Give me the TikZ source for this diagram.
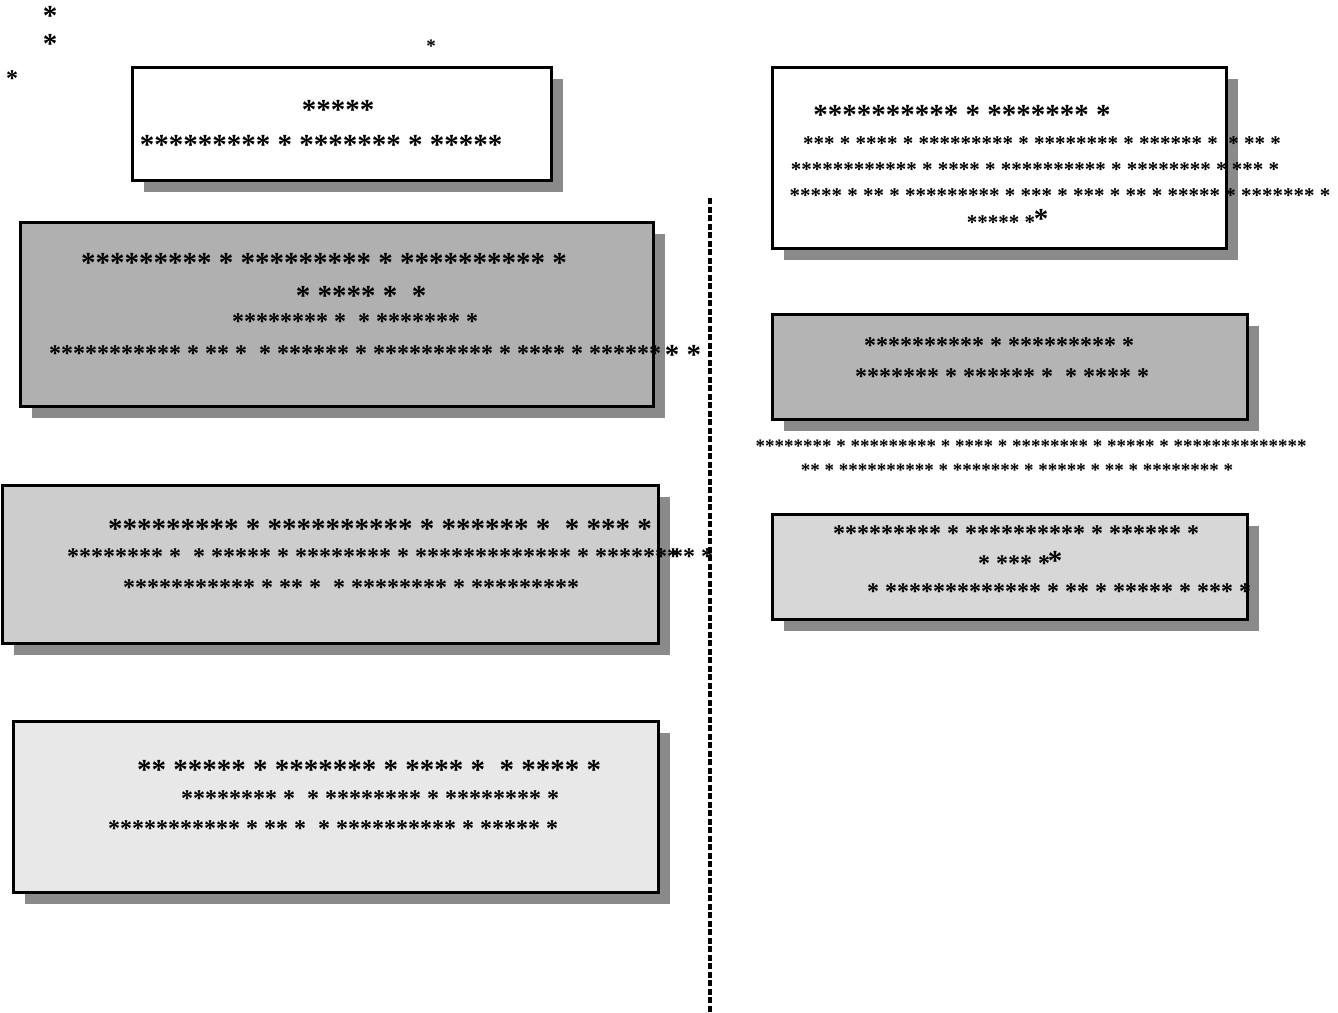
\documentclass[tikz,border=0pt]{standalone}
\usepackage{fontspec}
\usetikzlibrary{shadows}
\newfontfamily\starfont{Liberation Serif}
\newcommand\starsize[1]{\starfont\bfseries\fontsize{#1}{#1}\selectfont}
\definecolor{shadowgray}{RGB}{138,138,138}
\definecolor{fillA}{RGB}{176,176,176}
\definecolor{fillB}{RGB}{205,205,205}
\definecolor{fillC}{RGB}{232,232,232}
\definecolor{fillD}{RGB}{180,180,180}
\definecolor{fillE}{RGB}{215,215,215}
\tikzset{
  panel/.style={draw=black, line width=2.6pt, inner sep=0pt, anchor=north west,
    drop shadow={shadow xshift=12pt, shadow yshift=-12pt, fill=shadowgray, opacity=1}},
  lbl/.style={inner sep=0pt, anchor=base, yshift=2pt},
  s29/.style={lbl, font=\starsize{29}},
  s24/.style={lbl, font=\starsize{24}},
  s21/.style={lbl, font=\starsize{21}},
  s19/.style={lbl, font=\starsize{19}},
  divider/.style={line width=3.5pt, dash pattern=on 6pt off 2.5pt}
}
\begin{document}
\begin{tikzpicture}[x=1pt, y=-1pt]
\useasboundingbox (0,0) rectangle (1338,1012);

% panels
\node[panel, fill=white, minimum width=419pt, minimum height=113pt] (b1) at (131,66) {};
\node[panel, fill=fillA, minimum width=633pt, minimum height=184pt] (b2) at (19,221) {};
\node[panel, fill=fillB, minimum width=656pt, minimum height=158pt] (b3) at (1,484) {};
\node[panel, fill=fillC, minimum width=645pt, minimum height=171pt] (b4) at (12,720) {};
\node[panel, fill=white, minimum width=454pt, minimum height=181pt] (b5) at (771,66) {};
\node[panel, fill=fillD, minimum width=475pt, minimum height=105pt] (b6) at (771,313) {};
\node[panel, fill=fillE, minimum width=475pt, minimum height=105pt] (b7) at (771,513) {};

% dashed divider
\coordinate (d1) at (710,198);
\coordinate (d2) at (710,1012);
\draw[divider] (d1) -- (d2);

% loose marks
\node[s29] (k1) at (50,27) {*};
\node[s29] (k2) at (50,55) {*};
\node[s24] (k3) at (12,88.5) {*};
\node[s19] (k4) at (431,54) {*};

% panel 1
\node[s29] (b1a) at (338,121) {*****};
\node[s29] (b1b) at (321,156) {********* * ******* * *****};

% panel 2
\node[s29] (b2a) at (324,274) {********* * ********* * ********** *};
\node[s29] (b2b) at (361,307) {* **** *~~*};
\node[s24] (b2c) at (355,331.5) {******** *~~* ******* *};
\node[s24] (b2d) at (355,363.5) {*********** * ** *~~* ****** * ********** * **** * ******};
\node[s29] (b2e) at (683,366) {* *};

% panel 3
\node[s29] (b3a) at (380,540) {********* * ********** * ****** *~~* *** *};
\node[s24] (b3b) at (373,566.5) {******** *~~* ***** * ******** * ************* * *******};
\node[s24] (b3c) at (692,566.5) {** *};
\node[s24] (b3d) at (351,597.5) {*********** * ** *~~* ******** * *********};

% panel 4
\node[s29] (b4a) at (369,781) {** ***** * ******* * **** *~~* **** *};
\node[s24] (b4b) at (370,808.5) {******** *~~* ******** * ******** *};
\node[s24] (b4c) at (333,838.5) {*********** * ** *~~* ********** * ***** *};

% panel 5
\node[s29] (b5a) at (962,126) {********** * ******* *};
\node[s21] (b5b) at (1042,152) {*** * **** * ********* * ******** * ****** *~~* ** *};
\node[s21] (b5c) at (1035,178) {************ * **** * ********** * ******** * *** *};
\node[s21] (b5d) at (1060,204) {***** * ** * ********* * *** * *** * ** * ***** * ******* *};
\node[s21] (b5e) at (1001,231) {***** *};
\node[s29] (b5f) at (1041,230) {*};

% panel 6
\node[s24] (b6a) at (999,355.5) {********** * ********* *};
\node[s24] (b6b) at (1002,386.5) {******* * ****** *~~* **** *};

% lines between panels 6 and 7
\node[s19] (o1) at (1031,454) {******** * ********* * **** * ******** * ***** * **************};
\node[s19] (o2) at (1017,478) {** * ********** * ******* * ***** * ** * ******** *};

% panel 7
\node[s24] (b7a) at (1016,543.5) {********* * ********** * ****** *};
\node[s24] (b7b) at (1014,573.5) {* *** *};
\node[s29] (b7c) at (1055,572) {*};
\node[s24] (b7d) at (1059,601.5) {* ************* * ** * ***** * *** *};
\end{tikzpicture}
\end{document}
